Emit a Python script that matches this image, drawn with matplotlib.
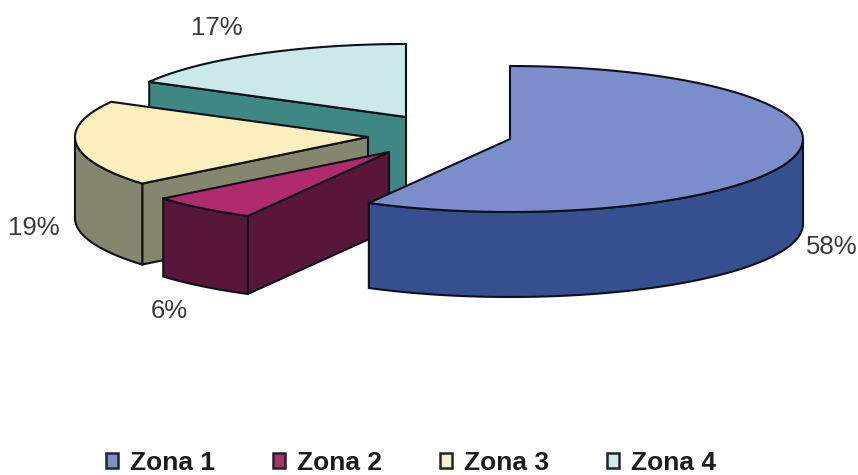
import numpy as np
import matplotlib
matplotlib.use("Agg")
import matplotlib.pyplot as plt
from matplotlib.patches import Polygon, Patch

plt.rcParams['font.family'] = ['Liberation Sans', 'DejaVu Sans']

# ---------------- DATA ----------------
zones = ['Zona 1', 'Zona 2', 'Zona 3', 'Zona 4']
shares = [58, 6, 19, 17]
pct_labels = ['58%', '6%', '19%', '17%']

# ---------------- STYLE ----------------
top_colors = ['#7b8ecb', '#b02a6e', '#fbf0bd', '#cbe9ea']
side_colors = ['#36508f', '#58163a', '#85866e', '#3f8783']
legend_colors = ['#7f90c4', '#a83565', '#f7f3c8', '#cfeaea']
edge = '#10101a'

# exploded centre and wall height of each slice, in image pixels
centers = [(510, 139), (389, 152), (368, 137), (406, 117)]
depths = [85, 78, 81, 78]
label_pos = [(832, 247), (169, 311), (34, 228), (217, 28)]
RX, RY = 293, 73

fig = plt.figure(figsize=(8.58, 4.75), dpi=100)
ax = fig.add_axes([0, 0, 1, 1])
ax.set_xlim(0, 858)
ax.set_ylim(475, 0)
ax.axis('off')


def rim(cx, cy, t0, t1, dy=0):
    t = np.radians(np.linspace(t0, t1, 80))
    return np.column_stack([cx + RX * np.sin(t), cy - RY * np.cos(t) + dy])


angles = np.cumsum([0] + shares) / sum(shares) * 360

# back to front: Zona 4 first, Zona 1 last
for i in [3, 2, 1, 0]:
    cx, cy = centers[i]
    t0, t1 = angles[i], angles[i + 1]
    depth = depths[i]
    # cut walls, only the ones that face the viewer
    walls = []
    if t0 > 180:
        walls.append(t0)
    if t1 < 180:
        walls.append(t1)
    for a in walls:
        p = rim(cx, cy, a, a)[0]
        wall = [(cx, cy), p, (p[0], p[1] + depth), (cx, cy + depth)]
        ax.add_patch(Polygon(wall, fc=side_colors[i], ec=edge, lw=1.5, joinstyle='round'))
    # outer wall, front part of the ellipse only
    v0, v1 = max(t0, 90), min(t1, 270)
    if v1 > v0:
        upper = rim(cx, cy, v0, v1)
        lower = rim(cx, cy, v0, v1, depth)[::-1]
        ax.add_patch(Polygon(np.vstack([upper, lower]), fc=side_colors[i], ec=edge, lw=1.5))
    # top face
    top = np.vstack([[(cx, cy)], rim(cx, cy, t0, t1)])
    ax.add_patch(Polygon(top, fc=top_colors[i], ec=edge, lw=1.5, joinstyle='round'))

for txt, (x, y) in zip(pct_labels, label_pos):
    ax.text(x, y, txt, fontsize=18.5, color='#3a3a3a', ha='center', va='center', clip_on=False)

handles = [Patch(fc=c, ec='#222233', lw=1.8) for c in legend_colors]
ax.legend(handles, zones, ncol=4, loc='center', bbox_to_anchor=(411 / 858, 1 - 463 / 475),
          frameon=False, prop={'size': 19, 'weight': 'bold'}, handlelength=0.46, handleheight=0.46,
          handletextpad=0.45, columnspacing=2.2, labelcolor='#1c1c1c',
          borderpad=0, borderaxespad=0)

fig.savefig('out.png', dpi=100)
